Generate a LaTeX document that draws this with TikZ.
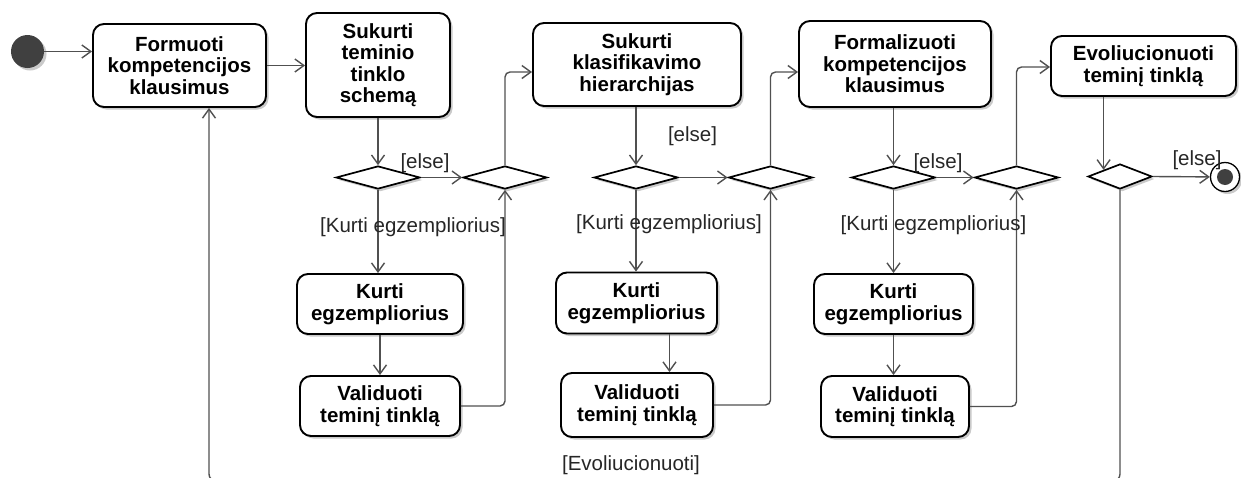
\documentclass[tikz,border=0pt]{standalone}
\usepackage{fontspec}
\setmainfont{Liberation Sans}
\usetikzlibrary{arrows.meta,shapes.geometric,shadows}
\definecolor{linec}{RGB}{80,80,80}
\definecolor{dotc}{RGB}{64,64,64}
\begin{document}
\begin{tikzpicture}[x=1pt,y=-1pt,
  softshadow/.style={drop shadow={shadow xshift=2.5pt,shadow yshift=-2.5pt,fill=black!60,opacity=0.35}},
  act/.style={draw=black,line width=1.9pt,fill=white,rounded corners=11pt,align=center,
    inner sep=0pt,font=\fontsize{20.5}{21.5}\selectfont\bfseries,softshadow},
  dec/.style={diamond,draw=black,line width=1.7pt,fill=white,inner sep=0pt,
    minimum width=84pt,minimum height=23pt,softshadow},
  flow/.style={draw=linec,line width=1.4pt,rounded corners=5pt,
    -{Straight Barb[length=9pt,width=13pt]}},
  guard/.style={text=black!85,inner sep=0pt,font=\fontsize{20.5}{21.5}\selectfont}
]
\useasboundingbox (0,0) rectangle (1241,477);
\clip (0,0) rectangle (1241,477);

% initial and final nodes
\node[circle,fill=dotc,minimum size=33pt,inner sep=0pt,softshadow] (start) at (27.5,51.5) {};
\node[circle,draw=black,line width=1.3pt,fill=white,minimum size=29pt,inner sep=0pt,softshadow] (end) at (1225,177) {};
\node[circle,fill=dotc,minimum size=16pt,inner sep=0pt] (endin) at (end) {};

% actions, top row
\node[act,minimum width=173pt,minimum height=83pt] (form) at (179.5,65.5) {Formuoti\\kompetencijos\\klausimus};
\node[act,minimum width=144pt,minimum height=104pt] (skt) at (378,65) {Sukurti\\teminio\\tinklo\\schemą};
\node[act,minimum width=208pt,minimum height=83pt] (skh) at (637,64.5) {Sukurti\\klasifikavimo\\hierarchijas};
\node[act,minimum width=192pt,minimum height=86pt] (fkk) at (895,64) {Formalizuoti\\kompetencijos\\klausimus};
\node[act,minimum width=185pt,minimum height=60pt] (evo) at (1143.5,66) {Evoliucionuoti\\teminį tinklą};

% actions, lower rows
\node[act,minimum width=166pt,minimum height=60pt] (k1) at (380,304) {Kurti\\egzempliorius};
\node[act,minimum width=160pt,minimum height=60pt] (v1) at (380,406) {Validuoti\\teminį tinklą};
\node[act,minimum width=161pt,minimum height=61pt] (k2) at (636.5,303) {Kurti\\egzempliorius};
\node[act,minimum width=152pt,minimum height=64pt] (v2) at (637,405) {Validuoti\\teminį tinklą};
\node[act,minimum width=159pt,minimum height=60pt] (k3) at (893.5,304) {Kurti\\egzempliorius};
\node[act,minimum width=148pt,minimum height=61pt] (v3) at (895,406.5) {Validuoti\\teminį tinklą};

% decision and merge nodes
\node[dec] (d1) at (378,177.5) {};
\node[dec] (d2) at (505,177.5) {};
\node[dec] (d3) at (636,177.5) {};
\node[dec] (d4) at (770.5,177.5) {};
\node[dec] (d5) at (893.5,177.5) {};
\node[dec] (d6) at (1016.5,177.5) {};
\node[dec,minimum width=64pt,minimum height=25pt] (d7) at (1120,176.5) {};

% the return flow runs just below the lower edge
\coordinate (loopy) at (0,481);

% control flows
\draw[flow] (start) -- (start -| form.west);
\draw[flow] (form.east) -- (form.east -| skt.west);
\draw[flow] (skt.south) -- (d1.north);
\draw[flow] (d1.east) -- (d2.west);
\draw[flow] (d1.south) -- (d1.south |- k1.north);
\draw[flow] (k1.south) -- (v1.north);
\draw[flow] (v1.east) -| (d2.south);
\draw[flow] (d2.north) |- ([yshift=-7.5pt]skh.west);

\draw[flow] (skh.south -| d3.north) -- (d3.north);
\draw[flow] (d3.east) -- (d4.west);
\draw[flow] (d3.south) -- (d3.south |- k2.north);
\draw[flow] ([xshift=33pt]k2.south) -- ([xshift=33pt]k2.south |- v2.north);
\draw[flow] (v2.east) -| (d4.south);
\draw[flow] (d4.north) |- ([yshift=-8pt]fkk.west);

\draw[flow] (fkk.south -| d5.north) -- (d5.north);
\draw[flow] (d5.east) -- (d6.west);
\draw[flow] (d5.south) -- (d5.south |- k3.north);
\draw[flow] (k3.south -| d5.south) -- (v3.north -| d5.south);
\draw[flow] (v3.east) -| (d6.south);
\draw[flow] (d6.north) |- ([yshift=-1pt]evo.west);

\draw[flow] (d7.north west |- evo.south) -- (d7.north west);
\draw[flow] (d7.east) -- (end);
\draw[flow,rounded corners=7pt] (d7.south) -- (d7.south |- loopy) -| ([xshift=29.5pt]form.south);

% guards
\node[guard] (g1) at (425,163) {[else]};
\node[guard] (g2) at (413,227) {[Kurti egzempliorius]};
\node[guard] (g3) at (692.5,136) {[else]};
\node[guard] (g4) at (669,224) {[Kurti egzempliorius]};
\node[guard] (g5) at (938,163) {[else]};
\node[guard] (g6) at (933.5,225) {[Kurti egzempliorius]};
\node[guard] (g7) at (1197,160) {[else]};
\node[guard] (g8) at (631,465) {[Evoliucionuoti]};
\end{tikzpicture}
\end{document}
